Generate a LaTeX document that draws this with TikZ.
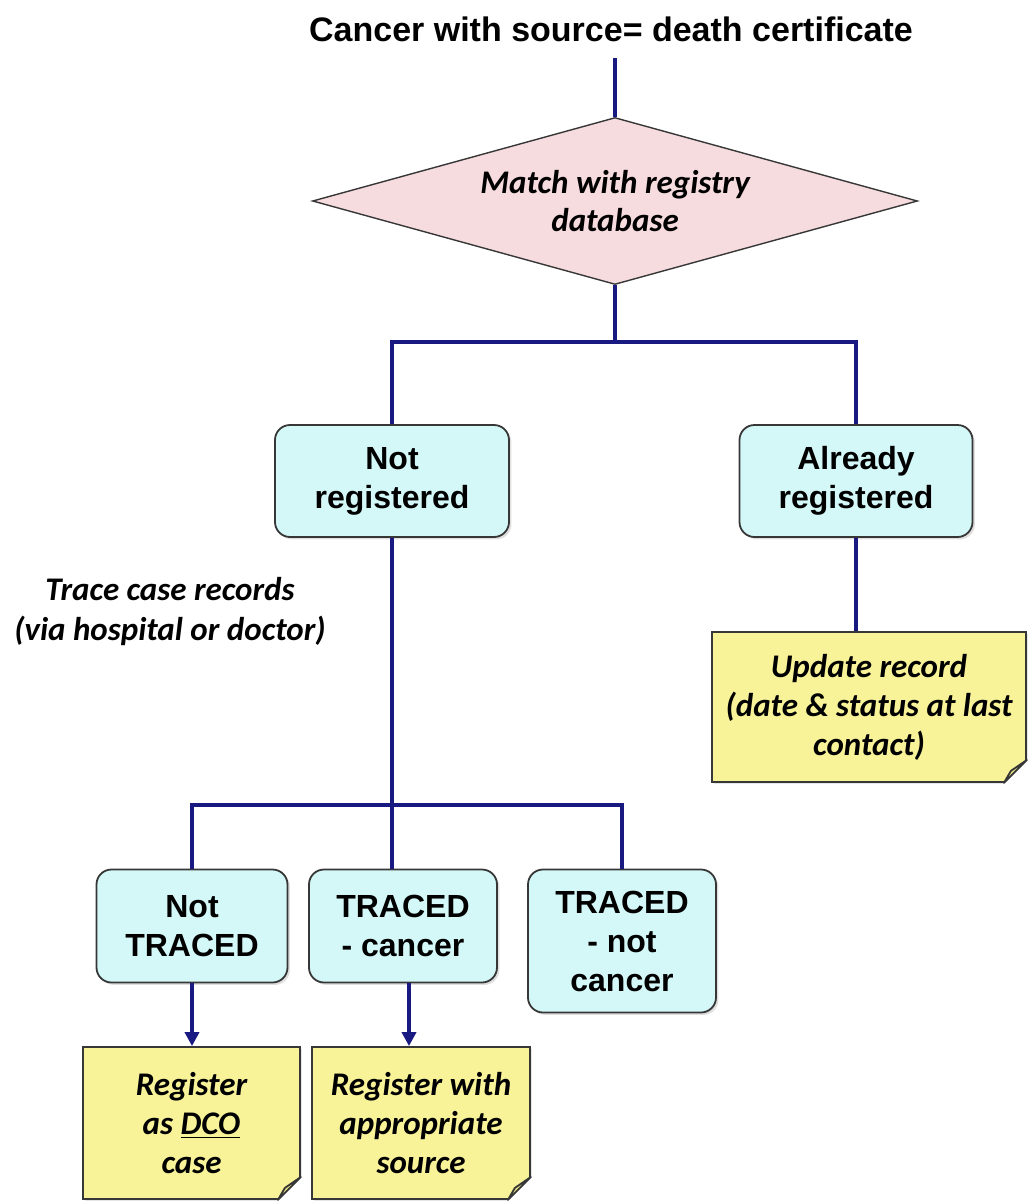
\documentclass[tikz,border=0pt]{standalone}
\usepackage{fontspec}
\setmainfont{Liberation Sans}
\newfontfamily\calibri{Carlito}
\usepackage{tikz}
\usetikzlibrary{shapes.geometric}
\usetikzlibrary{shadows}
\usetikzlibrary{arrows.meta}
\definecolor{flowline}{RGB}{25,25,130}
\definecolor{boxline}{RGB}{55,55,55}
\definecolor{boxfill}{RGB}{212,248,248}
\definecolor{diafill}{RGB}{246,220,222}
\definecolor{notefill}{RGB}{248,243,152}
\definecolor{flapfill}{RGB}{235,228,130}
\tikzset{
  flow/.style={draw=flowline, line width=2pt},
  outcome/.style={draw=boxline, line width=0.9pt, fill=boxfill, rounded corners=7.5pt,
    align=center, inner sep=2pt, font=\bfseries\fontsize{16}{19.5}\selectfont,
    drop shadow={opacity=0.25, shadow xshift=1.2pt, shadow yshift=-1.2pt}},
  decision/.style={diamond, aspect=3.62, draw=boxline, line width=0.7pt, fill=diafill, align=center,
    inner sep=2pt, font=\calibri\bfseries\itshape\fontsize{16.5}{19}\selectfont},
  notebox/.style={rectangle, draw=boxline, line width=0.9pt, fill=notefill, align=center,
    inner sep=2pt, font=\calibri\bfseries\itshape\fontsize{16.5}{19.5}\selectfont,
    drop shadow={opacity=0.2, shadow xshift=1.2pt, shadow yshift=-1.2pt}}
}
% folded corner of a note
\newcommand{\fold}[1]{%
  \fill[white] ([shift={(-13pt,-1.5pt)}]#1.south east) -- ([shift={(1.5pt,-1.5pt)}]#1.south east)
    -- ([shift={(1.5pt,13pt)}]#1.south east) -- cycle;
  \draw[boxline, line width=0.9pt, fill=flapfill, line join=round] ([xshift=-11.5pt]#1.south east)
    -- ([yshift=11.5pt]#1.south east) -- ([shift={(-8pt,6pt)}]#1.south east) -- cycle;
}

\begin{document}
\begin{tikzpicture}[x=0.5pt, y=-0.5pt]
    \useasboundingbox (0,0) rectangle (1028,1201);

    \node[font=\bfseries\fontsize{17}{20}\selectfont] at (611, 29) (title) {Cancer with source= death certificate};
    \coordinate (top) at (615, 58);
    \node[decision, minimum width=302.5pt, minimum height=83.5pt] at (615, 201) (dec) {Match with registry\\database};
    \coordinate (fork) at (615, 342);

    \node[outcome, minimum width=117pt, minimum height=56pt] at (392, 481) (nreg) {Not\\registered};
    \node[outcome, minimum width=116.5pt, minimum height=56pt] at (856, 481) (areg) {Already\\registered};

    \node[font=\calibri\bfseries\itshape\fontsize{16.5}{20}\selectfont, align=center] at (170, 612) (trace)
      {Trace case records\\(via hospital or doctor)};
    \node[notebox, minimum width=157pt, minimum height=75pt] at (869, 707) (upd)
      {Update record\\(date \& status at last\\contact)};
    \fold{upd}

    \coordinate (fork2) at (392, 805);
    \node[outcome, minimum width=95.5pt, minimum height=56.5pt] at (192, 926) (ntr) {Not\\TRACED};
    \node[outcome, minimum width=94pt, minimum height=56.5pt] at (403, 926) (trc) {TRACED\\- cancer};
    \node[outcome, minimum width=94pt, minimum height=71.5pt] at (622, 941) (tnc) {TRACED\\- not\\cancer};

    \node[notebox, minimum width=108.5pt, minimum height=76pt] at (191.5, 1123) (reg1)
      {Register\\as \underline{DCO}\\case};
    \node[notebox, minimum width=109pt, minimum height=76pt] at (421, 1123) (reg2)
      {Register with\\appropriate\\source};
    \fold{reg1}
    \fold{reg2}

    \draw[flow] (top) -- (dec);
    \draw[flow] (dec) -- (fork);
    \draw[flow] (fork) -| (nreg);
    \draw[flow] (fork) -| (areg);
    \draw[flow] (areg) -- (areg |- upd.north);
    \draw[flow] (nreg) -- (nreg |- trc.north);
    \draw[flow] (fork2) -| (ntr);
    \draw[flow] (fork2) -| (tnc);
    \draw[flow, -{Triangle[length=7pt, width=7pt]}] (ntr) -- (ntr |- reg1.north);
    \draw[flow, -{Triangle[length=7pt, width=7pt]}] ([xshift=3pt]trc.south) -- ([xshift=3pt]trc.south |- reg2.north);
  \end{tikzpicture}
\end{document}
